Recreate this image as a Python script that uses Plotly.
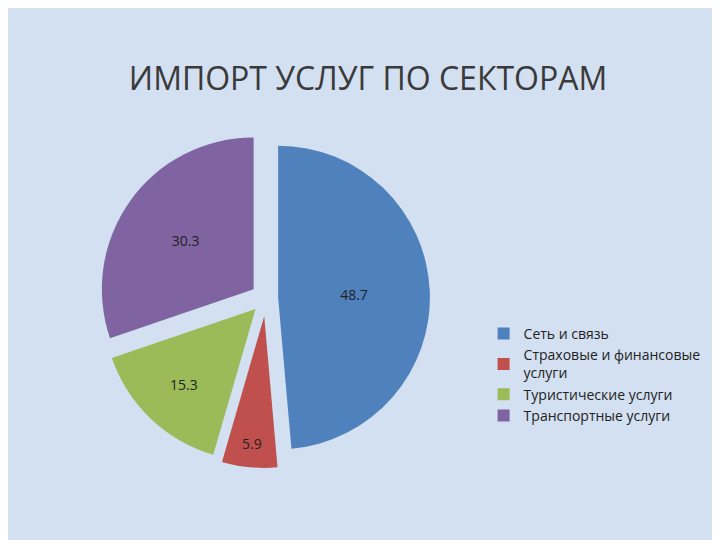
import plotly.graph_objects as go

labels = ["Сеть и связь", "Страховые и финансовые<br>услуги", "Туристические услуги", "Транспортные услуги"]
values = [48.7, 5.9, 15.3, 30.3]
colors = ["#4f81bd", "#c0504d", "#9bbb59", "#8064a2"]
pulls = [0.08, 0.12, 0.1, 0.1]

fig = go.Figure(go.Pie(
    labels=labels,
    values=values,
    sort=False,
    direction="clockwise",
    rotation=0,
    pull=pulls,
    marker=dict(colors=colors, line=dict(width=0)),
    texttemplate="%{value}",
    textposition="inside",
    insidetextorientation="horizontal",
    textfont=dict(size=14, color="#222222", family="Open Sans"),
    domain=dict(x=[0.04, 0.66], y=[0.12, 0.8]),
))

fig.update_layout(
    width=720, height=540,
    paper_bgcolor="#d3e0f1",
    margin=dict(l=20, r=20, t=20, b=20),
    title=dict(text="ИМПОРТ УСЛУГ ПО СЕКТОРАМ", x=0.5, y=0.89,
               font=dict(size=32, color="#3a3a3a", family="Open Sans")),
    legend=dict(x=0.67, y=0.42, yanchor="top", bgcolor="rgba(0,0,0,0)",
                font=dict(size=14, color="#222222", family="Open Sans")),
)

fig.write_html("out.html")
